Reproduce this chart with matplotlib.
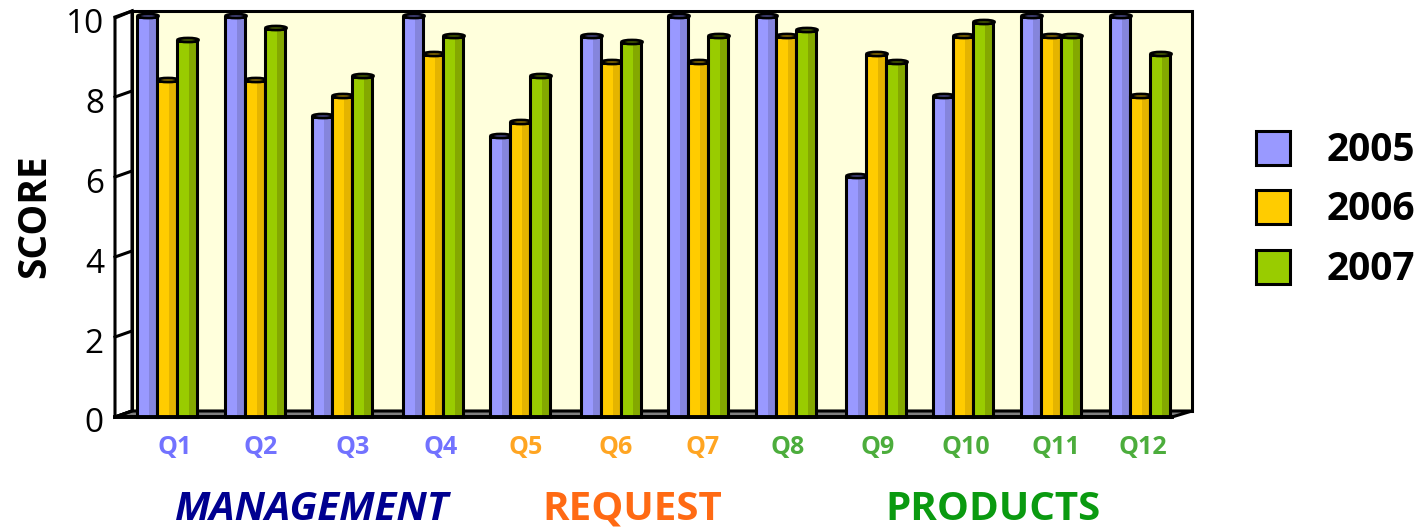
import matplotlib
matplotlib.use("Agg")
import matplotlib.pyplot as plt
from matplotlib.patches import Ellipse, Polygon, Rectangle

questions = ["Q1", "Q2", "Q3", "Q4", "Q5", "Q6", "Q7", "Q8", "Q9", "Q10", "Q11", "Q12"]
years = ["2005", "2006", "2007"]
scores_2005 = [10, 10, 7.5, 10, 7.0, 9.5, 10, 10, 6.0, 8.0, 10, 10]
scores_2006 = [8.4, 8.4, 8.0, 9.05, 7.35, 8.85, 8.85, 9.5, 9.05, 9.5, 9.5, 8.0]
scores_2007 = [9.4, 9.7, 8.5, 9.5, 8.5, 9.35, 9.5, 9.65, 8.85, 9.85, 9.5, 9.05]
y_ticks = [0, 2, 4, 6, 8, 10]
groups = ["MANAGEMENT", "REQUEST", "PRODUCTS"]

# Layout in canvas pixels
W, H = 1422, 529
BASE_Y, PX_PER_UNIT = 417, 40.0
FRONT_L, FRONT_R = 115, 1172
DX, DY = 20, 6
WALL_TOP = 11
BAR_W = 20
group_left = [137, 225, 312, 403, 490, 581, 668, 756, 846, 933, 1021, 1110]
label_x = [175, 261, 353, 441, 526, 616, 703, 788, 878, 966, 1056, 1143]
label_colors = ["#7272ff"] * 4 + ["#ffa522"] * 3 + ["#4cad3c"] * 5
group_label_pos = [(312, 520, "#000090"), (632, 520, "#ff6a13"), (993, 520, "#0a9a10")]

FILL = ["#9999ff", "#ffcc00", "#99cc00"]
SHADE = ["#8585dc", "#e4b400", "#84a800"]
TOP = ["#5f5fb0", "#b89200", "#5f7c00"]
FONT = ["Open Sans", "DejaVu Sans"]


def vy(px):
    """Canvas pixel row expressed as a value on the score scale."""
    return (BASE_Y - px) / PX_PER_UNIT


fig = plt.figure(figsize=(W / 100, H / 100), dpi=100)
ax = fig.add_axes([0, 0, 1, 1])
ax.set_xlim(0, W)
ax.set_ylim(vy(H), vy(0))
ax.axis("off")

LW = 2.2

# Back wall, side wall and floor of the 3-D box
back_l, back_r = FRONT_L + DX - 3, FRONT_R + DX
ax.add_patch(Rectangle((back_l, vy(BASE_Y - DY)), back_r - back_l, vy(WALL_TOP) - vy(BASE_Y - DY),
                       fc="#ffffdc", ec="black", lw=LW, zorder=1))
ax.add_patch(Polygon([(FRONT_L, 0), (back_l, vy(BASE_Y - DY)), (back_l, vy(WALL_TOP)), (FRONT_L, vy(18))],
                     closed=True, fc="white", ec="black", lw=LW, zorder=2))
ax.add_patch(Polygon([(FRONT_L, 0), (back_l, vy(BASE_Y - DY)), (back_r, vy(BASE_Y - DY)), (FRONT_R, 0)],
                     closed=True, fc="#808080", ec="black", lw=LW, zorder=2))

# Tick marks on the side wall and value labels
for t in y_ticks:
    ax.plot([FRONT_L, back_l], [t, t + DY / PX_PER_UNIT], color="black", lw=LW, zorder=3)
    ax.text(104, t - 7 / PX_PER_UNIT, str(t), ha="right", va="center", fontsize=24,
            family=FONT, color="black", zorder=6)

# Grouped columns with a shaded flank and an elliptical cap
series = [scores_2005, scores_2006, scores_2007]
for k, left in enumerate(group_left):
    for s, values in enumerate(series):
        v = values[k]
        x0 = left + s * BAR_W
        z = 4 + s * 0.1
        ax.bar(x0, v, BAR_W, align="edge", color=FILL[s], lw=0, zorder=z)
        ax.bar(x0 + BAR_W * 0.6, v, BAR_W * 0.4, align="edge", color=SHADE[s], lw=0, zorder=z)
        ax.bar(x0, v, BAR_W, align="edge", fill=False, ec="black", lw=LW, zorder=z + 0.01)
        ax.add_patch(Ellipse((x0 + BAR_W / 2 + 1, v + 1 / PX_PER_UNIT), BAR_W + 1, 4 / PX_PER_UNIT,
                             fc=TOP[s], ec="black", lw=2.0, zorder=z + 0.02))

# Front floor edge
ax.plot([FRONT_L, FRONT_R], [0, 0], color="black", lw=LW + 0.6, zorder=5)

# Axis title, question labels, section labels
ax.text(35, vy(216), "SCORE", rotation=90, ha="center", va="center", fontsize=28,
        fontweight="bold", family=FONT)
for name, x, c in zip(questions, label_x, label_colors):
    ax.text(x, vy(447), name, ha="center", va="center", fontsize=18, fontweight="bold", color=c, family=FONT)
for name, (x, y, c) in zip(groups, group_label_pos):
    ax.text(x, vy(y), name, ha="center", va="baseline", fontsize=29, fontweight="bold",
            fontstyle="italic" if name == "MANAGEMENT" else "normal", color=c, family=FONT)

# Legend keys
for year, y, c in zip(years, [148, 207, 267], FILL):
    ax.add_patch(Rectangle((1256, vy(y + 17)), 34, 34 / PX_PER_UNIT, fc=c, ec="black", lw=2.2, zorder=5))
    ax.text(1327, vy(y + 2), year, ha="left", va="center", fontsize=28, fontweight="bold", family=FONT)

fig.savefig("out.png", dpi=100)
